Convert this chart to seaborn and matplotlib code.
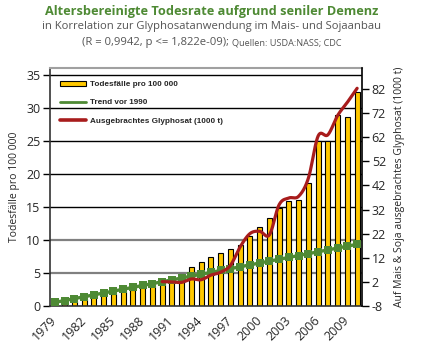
import numpy as np
import pandas as pd
import matplotlib
matplotlib.use('Agg')
import matplotlib.pyplot as plt
import seaborn as sns
from matplotlib.lines import Line2D
from matplotlib.patches import Patch

# ---------------- data ----------------
years = list(range(1979, 2011))
deaths = [0.4, 0.6, 0.8, 1.1, 1.4, 1.6, 1.8, 2.2, 2.4, 2.7, 3.2, 3.6,
          4.0, 4.9, 5.85, 6.6, 7.4, 8.0, 8.6, 9.2, 10.55, 12.0, 13.4, 14.9,
          15.85, 16.0, 18.7, 24.95, 24.95, 28.9, 28.7, 32.4]
trend = [0.55, 0.83, 1.12, 1.40, 1.69, 1.97, 2.25, 2.54, 2.82, 3.11, 3.39,
         3.67, 3.96, 4.24, 4.53, 4.81, 5.09, 5.38, 5.66, 5.94, 6.23, 6.51,
         6.80, 7.08, 7.36, 7.65, 7.93, 8.21, 8.50, 8.78, 9.07, 9.35]
gly_years = list(range(1990, 2011))
glyphosate = [2.1, 2.0, 1.8, 3.2, 2.9, 4.8, 6.0, 8.8, 16.5, 22.0, 23.0, 21.5,
              34.0, 36.8, 37.5, 45.0, 62.5, 63.0, 71.0, 76.5, 82.3]
xtick_labels = [str(y) for y in range(1979, 2011, 3)]
left_ticks = [0, 5, 10, 15, 20, 25, 30, 35]
right_ticks = [-8, 2, 12, 22, 32, 42, 52, 62, 72, 82]

title = "Altersbereinigte Todesrate aufgrund seniler Demenz"
sub1 = "in Korrelation zur Glyphosatanwendung im Mais- und Sojaanbau"
sub2a = "(R = 0,9942, p <= 1,822e-09); "
sub2b = "Quellen: USDA:NASS; CDC"
ylabel_left = "Todesfälle pro 100 000"
ylabel_right = "Auf Mais & Soja ausgebrachtes Glyphosat (1000 t)"
leg_labels = ["Todesfälle pro 100 000", "Trend vor 1990", "Ausgebrachtes Glyphosat (1000 t)"]

BAR = "#FFC800"
GREEN = "#4E8A34"
RED = "#A81C1C"
TITLE_GREEN = "#4E8A34"
GREY_TXT = "#555555"

sns.set_theme(style="white")
plt.rcParams['font.family'] = ['Open Sans', 'DejaVu Sans']

W, H = 424, 352
fig = plt.figure(figsize=(W / 100, H / 100), dpi=100)
ax = fig.add_axes([50 / W, 1 - 306 / H, 312 / W, 237.6 / H])

df = pd.DataFrame({"year": [str(y) for y in years], "deaths": deaths, "trend": trend})
sns.barplot(data=df, x="year", y="deaths", color=BAR, saturation=1,
            edgecolor="black", linewidth=0.8, width=0.5, ax=ax, zorder=2)
sns.lineplot(x=np.arange(len(years)), y=trend, color=GREEN, lw=2.4,
             marker="s", markersize=5.2, markeredgewidth=0, ax=ax, zorder=4)

ax.set_xlim(-0.5, len(years) - 0.5)
ax.set_ylim(0, 36)

# gridlines
for yv in left_ticks[1:]:
    if yv in (5, 10):
        ax.axhline(yv, color="#808080", lw=1.6, zorder=0)
    else:
        ax.axhline(yv, color="black", lw=1.0, zorder=0)

# x ticks
pos = np.arange(0, len(years), 3)
ax.set_xticks(pos)
ax.set_xticklabels(xtick_labels, rotation=45, ha="right", va="center",
                   rotation_mode="anchor", fontsize=9)
ax.set_xticks(np.arange(-0.5, len(years), 1), minor=True)
ax.tick_params(axis="x", which="major", length=0, pad=9)
ax.tick_params(axis="x", which="minor", length=5, width=1, color="black", direction="out")
ax.set_yticks(left_ticks)
ax.set_yticklabels([str(t) for t in left_ticks], fontsize=9)
ax.tick_params(axis="y", length=5, width=1, color="black", direction="out", pad=2,
               left=True)
ax.set_xlabel("")
ax.set_ylabel(ylabel_left, fontsize=7.5, labelpad=4)

for s in ["left", "bottom"]:
    ax.spines[s].set_color("#333333")
    ax.spines[s].set_linewidth(1.2)
ax.spines["top"].set_color("#A0A0A0")
ax.spines["top"].set_linewidth(1.5)
ax.spines["right"].set_visible(False)

# smoothed glyphosate line on secondary axis
ax2 = ax.twinx()
gx = np.array([y - years[0] for y in gly_years], float)
gy = np.array(glyphosate, float)
n = len(gx)
m = np.zeros(n)
for k in range(n):
    if k == 0:
        m[k] = gy[1] - gy[0]
    elif k == n - 1:
        m[k] = gy[-1] - gy[-2]
    else:
        m[k] = (gy[k + 1] - gy[k - 1]) / 2
xs, ys = [], []
for k in range(n - 1):
    t = np.linspace(0, 1, 25)
    h00 = 2 * t**3 - 3 * t**2 + 1
    h10 = t**3 - 2 * t**2 + t
    h01 = -2 * t**3 + 3 * t**2
    h11 = t**3 - t**2
    xs.extend(gx[k] + t)
    ys.extend(h00 * gy[k] + h10 * m[k] + h01 * gy[k + 1] + h11 * m[k + 1])
sns.lineplot(x=xs, y=ys, sort=False, estimator=None, color=RED, lw=2.3, ax=ax2)
ax2.set_ylim(-8, -8 + 36 * 6.6 / 2.411)
ax2.set_yticks(right_ticks)
ax2.set_yticklabels([str(t) for t in right_ticks], fontsize=9)
ax2.tick_params(axis="y", length=5, width=1, color="black", direction="out", pad=2,
                right=True)
ax2.set_ylabel(ylabel_right, fontsize=7.5, labelpad=6)
ax2.grid(False)
ax2.spines["right"].set_color("black")
ax2.spines["right"].set_linewidth(1.2)
for s in ["left", "bottom", "top"]:
    ax2.spines[s].set_visible(False)

# legend
handles = [Patch(facecolor=BAR, edgecolor="black", linewidth=0.8),
           Line2D([0], [0], color=GREEN, lw=2.0),
           Line2D([0], [0], color=RED, lw=2.6)]
leg = ax2.legend(handles, leg_labels, loc="upper left",
                 bbox_to_anchor=(0.032, 0.948), frameon=False,
                 prop={"family": "Liberation Sans", "weight": "bold", "size": 5.9},
                 handlelength=3.2, handleheight=0.6, handletextpad=0.5,
                 labelspacing=1.3, borderpad=0, borderaxespad=0)

# titles
fig.text(0.5, 1 - 11 / H, title, ha="center", va="center", fontsize=9.2,
         fontweight="bold", color=TITLE_GREEN)
fig.text(0.5, 1 - 27 / H, sub1, ha="center", va="center", fontsize=8.1, color=GREY_TXT)
fig.canvas.draw()
r = fig.canvas.get_renderer()
ta = fig.text(0, 1 - 43 / H, sub2a, ha="left", va="center", fontsize=8.1, color=GREY_TXT)
tb = fig.text(0, 1 - 43 / H, sub2b, ha="left", va="center", fontsize=6.6, color=GREY_TXT)
wa = ta.get_window_extent(r).width
wb = tb.get_window_extent(r).width
x0 = (W - wa - wb) / 2
ta.set_x(x0 / W)
tb.set_x((x0 + wa) / W)

fig.savefig("out.png", dpi=100)
